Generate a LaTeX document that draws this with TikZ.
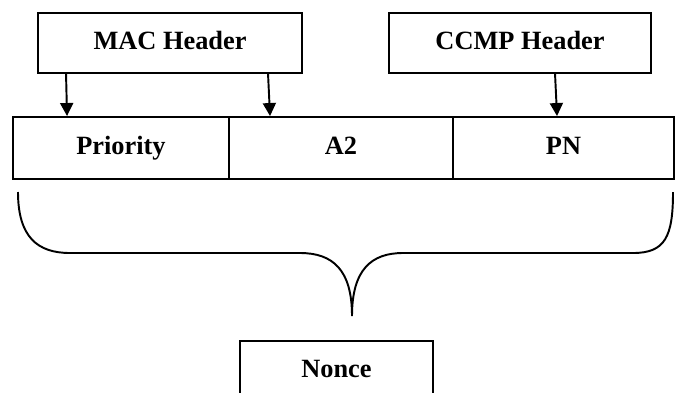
\documentclass[tikz,border=0pt]{standalone}
\usepackage{fontspec}
\setmainfont{Liberation Serif}
\usetikzlibrary{arrows.meta}
\tikzset{
    hdrbox/.style = {draw, line width=1.1pt, minimum height=1.2cm, inner sep=0pt,
                     text height=0.74em, text depth=0pt,
                     font=\fontsize{15}{18}\selectfont\bfseries},
    cellbox/.style = {hdrbox, minimum height=1.24cm},
    arr/.style = {line width=1.1pt, -{Triangle[length=0.26cm,width=0.26cm]}}
}
\begin{document}
\begin{tikzpicture}
    \useasboundingbox (0,0) rectangle (13.52,7.84);
    \node[hdrbox, minimum width=5.28cm] (mac) at (3.4,6.98) {MAC Header};
    \node[hdrbox, minimum width=5.24cm] (ccmp) at (10.4,6.98) {CCMP Header};
    \foreach \n/\x/\w/\t in {prio/2.42/4.32/Priority, atwo/6.82/4.48/A2, pn/11.27/4.42/PN}
        {\node[cellbox, minimum width=\w cm] (\n) at (\x,4.88) {\t};};
    \node[hdrbox, minimum width=3.86cm] (nonce) at (6.73,0.42) {Nonce};
    \draw[arr] ([xshift=0.58cm]mac.south west) -- ([xshift=1.10cm]prio.north west);
    \draw[arr] ([xshift=4.62cm]mac.south west) -- ([xshift=0.84cm]atwo.north west);
    \draw[arr] ([xshift=3.34cm]ccmp.south west) -- ([xshift=2.10cm]pn.north west);
    \coordinate (tip) at (7.04,1.52);
    \draw[line width=1.1pt] (0.36,4.0) .. controls (0.36,3.1) and (0.75,2.78) .. (1.4,2.78)
        -- (6.0,2.78) .. controls (6.65,2.78) and (7.04,2.45) .. (tip)
        .. controls (7.04,2.45) and (7.43,2.78) .. (8.06,2.78)
        -- (12.66,2.78) .. controls (13.3,2.78) and (13.46,3.1) .. (13.46,4.0);
\end{tikzpicture}
\end{document}
